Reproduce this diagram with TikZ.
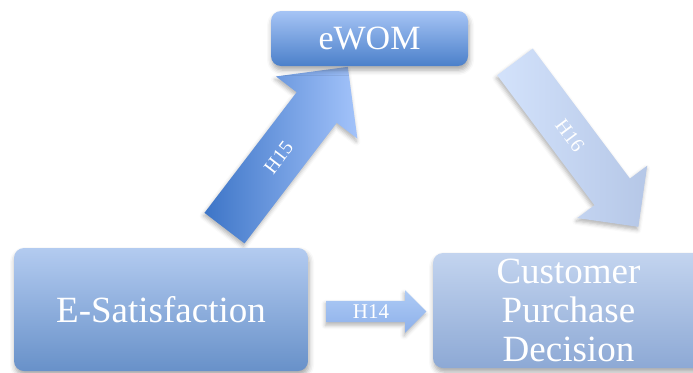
\documentclass[tikz,border=0pt]{standalone}
\usepackage{fontspec}
\setmainfont{Liberation Serif}
\usetikzlibrary{shapes.arrows,shadows.blur}

\definecolor{ewomTop}{HTML}{A6C4F5}
\definecolor{ewomBot}{HTML}{4B80CA}
\definecolor{esatTop}{HTML}{B3CBF0}
\definecolor{esatBot}{HTML}{6891C9}
\definecolor{cpdTop}{HTML}{C3D4EF}
\definecolor{cpdBot}{HTML}{8DA9D5}
\definecolor{hfifTail}{HTML}{3D75C7}
\definecolor{hfifHead}{HTML}{A3C3FA}
\definecolor{hsixTail}{HTML}{D3E2FB}
\definecolor{hsixHead}{HTML}{B5C7E7}
\definecolor{hfourTop}{HTML}{AECBF5}
\definecolor{hfourBot}{HTML}{8DB0EA}

\begin{document}
\begin{tikzpicture}[x=1pt,y=-1pt,
  box/.style={rounded corners=10pt, text=white, align=center, inner sep=0pt,
    blur shadow={shadow xshift=1pt, shadow yshift=-4pt, shadow blur radius=5pt, shadow opacity=35}},
  blockarrow/.style={single arrow, single arrow tip angle=90, inner xsep=0pt, inner ysep=0pt,
    text=white, blur shadow={shadow xshift=-1pt, shadow yshift=-3pt, shadow blur radius=4pt, shadow opacity=30}},
]
\clip (0,0) rectangle (693,372);

% hypothesis arrows drawn first so the boxes sit on top
\node[blockarrow, rotate=52.6, minimum height=203pt, minimum width=102pt,
  single arrow head extend=26pt, text height=31.6pt, text depth=18.4pt,
  left color=hfifTail, right color=hfifHead, font=\fontsize{20}{20}\selectfont]
  (h15) at (278.5,157.5) {H15};

\node[blockarrow, rotate=-53.2, minimum height=206pt, minimum width=87pt,
  single arrow head extend=21.5pt, text height=28.6pt, text depth=15.4pt,
  left color=hsixTail, right color=hsixHead, font=\fontsize{20}{20}\selectfont]
  (h16) at (570,135.5) {H16};

\node[blockarrow, minimum height=100pt, minimum width=42pt,
  single arrow head extend=10.5pt, text height=17.45pt, text depth=3.55pt,
  top color=hfourTop, bottom color=hfourBot, font=\fontsize{21}{21}\selectfont]
  (h14) at (371,311.5) {H14};

% construct boxes
\node[box, minimum width=197pt, minimum height=55pt, top color=ewomTop, bottom color=ewomBot,
  font=\fontsize{34}{34}\selectfont] (ewom) at (369.5,38.5) {eWOM};

\node[box, minimum width=294pt, minimum height=123pt, top color=esatTop, bottom color=esatBot,
  font=\fontsize{37}{37}\selectfont] (esat) at (161,309.5) {E-Satisfaction};

\node[box, minimum width=271pt, minimum height=115pt, top color=cpdTop, bottom color=cpdBot,
  font=\fontsize{37}{39}\selectfont] (cpd) at (568.5,310.5) {Customer\\Purchase\\Decision};
\end{tikzpicture}
\end{document}
